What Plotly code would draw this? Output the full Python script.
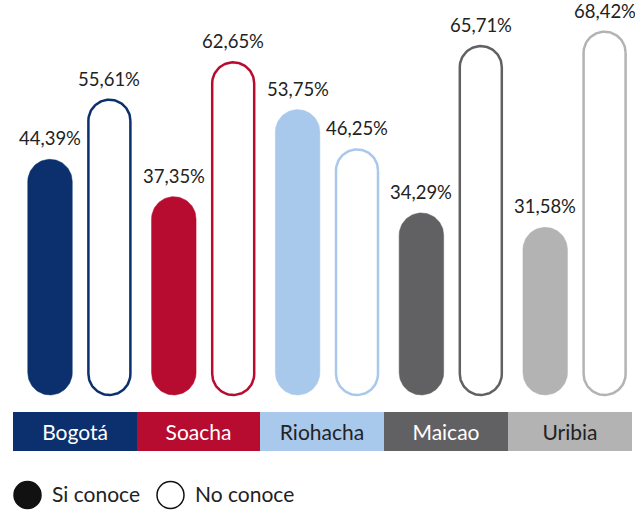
import numpy as np
import plotly.graph_objects as go

# ---- data ----
cities = ["Bogotá", "Soacha", "Riohacha", "Maicao", "Uribia"]
si_conoce = [44.39, 37.35, 53.75, 34.29, 31.58]
no_conoce = [55.61, 62.65, 46.25, 65.71, 68.42]
legend_labels = ["Si conoce", "No conoce"]

# ---- styles ----
city_colors = ["#0b306d", "#b70b2f", "#a8c8ec", "#616163", "#b3b3b3"]
band_text_colors = ["#ffffff", "#ffffff", "#222222", "#ffffff", "#222222"]
FONT = "Lato"
TXT = "#222222"

W, H = 635, 511
X_RANGE = [-0.6026, 4.5267]
Y_RANGE = [-21.85, 74.39]
px_x = W / (X_RANGE[1] - X_RANGE[0])
px_y = H / (Y_RANGE[1] - Y_RANGE[0])

BAR_W_PX = 44.5
OFF_SI = -24.6 / px_x
OFF_NO = 34.8 / px_x


def pill(xc, top, wpx):
    hw = wpx / 2 / px_x
    ry = wpx / 2 / px_y
    th = np.linspace(0, np.pi, 48)
    xt = xc + hw * np.cos(th)
    yt = (top - ry) + ry * np.sin(th)
    xb = xc - hw * np.cos(th)
    yb = ry - ry * np.sin(th)
    xs = np.concatenate([xt, xb, xt[:1]])
    ys = np.concatenate([yt, yb, yt[:1]])
    return xs, ys


fig = go.Figure()

# category band
band_base = (395 - 451) / px_y
band_top = (395 - 412) / px_y
fig.add_trace(go.Bar(
    x=list(range(len(cities))), y=[band_top - band_base] * len(cities), base=band_base,
    width=1, marker=dict(color=city_colors, line=dict(width=0)),
    text=cities, textposition="inside", insidetextanchor="middle", textangle=0,
    textfont=dict(family=FONT, size=21, color=band_text_colors),
    hoverinfo="skip", cliponaxis=False,
))

annotations = []
for i, city in enumerate(cities):
    # Si conoce (filled pill)
    xs, ys = pill(i + OFF_SI, si_conoce[i], BAR_W_PX)
    fig.add_trace(go.Scatter(x=xs, y=ys, mode="lines", fill="toself",
                             fillcolor=city_colors[i],
                             line=dict(color=city_colors[i], width=0.5),
                             hoverinfo="skip", name=legend_labels[0]))
    # No conoce (outlined pill)
    xs, ys = pill(i + OFF_NO, no_conoce[i], BAR_W_PX - 2.5)
    fig.add_trace(go.Scatter(x=xs, y=ys, mode="lines", fill="toself",
                             fillcolor="white",
                             line=dict(color=city_colors[i], width=2.5),
                             hoverinfo="skip", name=legend_labels[1]))
    for off, val in ((OFF_SI, si_conoce[i]), (OFF_NO, no_conoce[i])):
        annotations.append(dict(
            x=i + off, y=val, text=f"{val:.2f}%".replace(".", ","),
            showarrow=False, yanchor="bottom", xanchor="center", yshift=8,
            font=dict(family=FONT, size=18.5, color=TXT)))

# custom legend
leg_y = (395 - 495) / px_y
leg_x = [(27.5 - 74.6) / px_x, (170.5 - 74.6) / px_x]
leg_symbols = ["circle", "circle-open"]
for lx, sym, lab in zip(leg_x, leg_symbols, legend_labels):
    fig.add_trace(go.Scatter(
        x=[lx], y=[leg_y], mode="markers", opacity=1,
        marker=dict(size=27, symbol=sym, color="#111111", opacity=1,
                    line=dict(width=1.5, color="#111111")),
        hoverinfo="skip", cliponaxis=False, name=lab))
    annotations.append(dict(x=lx, y=leg_y, text=lab, showarrow=False,
                            xanchor="left", yanchor="middle", xshift=22, yshift=1,
                            font=dict(family=FONT, size=21, color=TXT)))

fig.update_layout(
    width=W, height=H, margin=dict(l=0, r=0, t=0, b=0),
    paper_bgcolor="white", plot_bgcolor="white", showlegend=False,
    xaxis=dict(range=X_RANGE, visible=False, fixedrange=True),
    yaxis=dict(range=Y_RANGE, visible=False, fixedrange=True),
    annotations=annotations, bargap=0,
)

fig.write_html("out.html", config={"displayModeBar": False},
               post_script="document.body.style.margin='0';document.body.style.overflow='hidden';")
